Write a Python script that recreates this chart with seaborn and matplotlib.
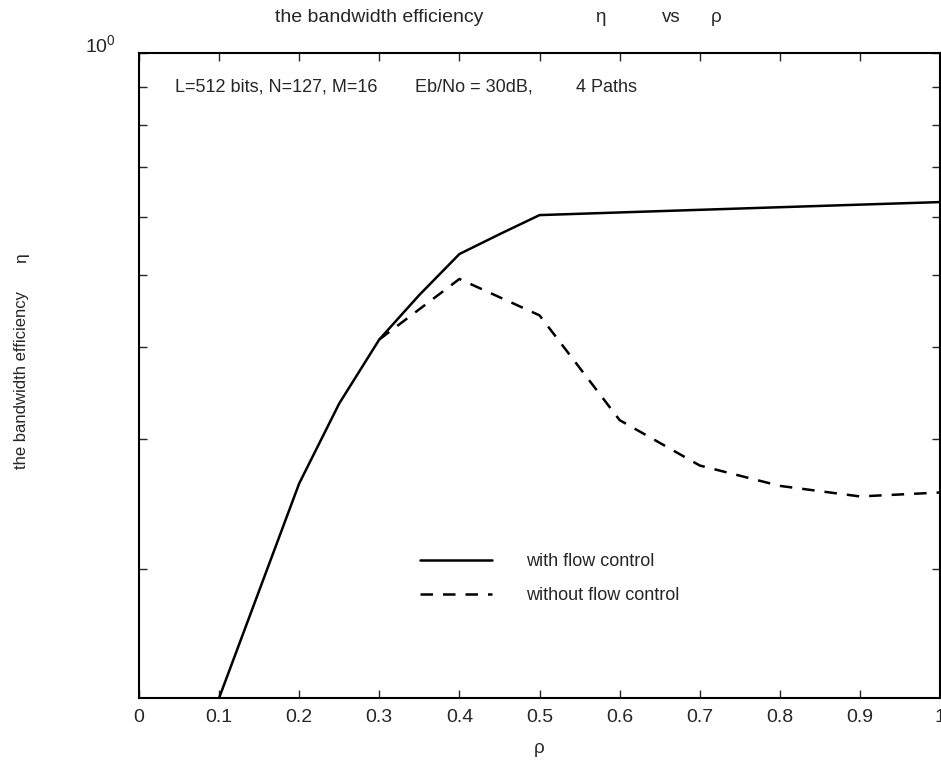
import matplotlib
matplotlib.use("Agg")
import matplotlib.pyplot as plt
import seaborn as sns
import pandas as pd
from matplotlib.ticker import FixedLocator, NullFormatter

# data
rho_with = [0.1, 0.2, 0.25, 0.3, 0.35, 0.4, 0.45, 0.5, 0.6, 0.7, 0.8, 0.9, 1.0]
eta_with = [0.1336, 0.261, 0.335, 0.409, 0.47, 0.534, 0.568, 0.603, 0.608, 0.613, 0.618, 0.623, 0.628]

rho_without = [0.3, 0.4, 0.5, 0.6, 0.7, 0.8, 0.9, 1.0]
eta_without = [0.409, 0.494, 0.441, 0.318, 0.276, 0.259, 0.2506, 0.2537]

x_ticks = [0, 0.1, 0.2, 0.3, 0.4, 0.5, 0.6, 0.7, 0.8, 0.9, 1.0]
x_tick_labels = ["0", "0.1", "0.2", "0.3", "0.4", "0.5", "0.6", "0.7", "0.8", "0.9", "1"]
y_minor = [0.2, 0.3, 0.4, 0.5, 0.6, 0.7, 0.8, 0.9]

sns.set_theme(style="ticks")
plt.rcParams['font.family'] = ['Liberation Sans', 'DejaVu Sans']

fig = plt.figure(figsize=(9.41, 7.65), dpi=100)
ax = fig.add_axes([0.1477, 0.0876, 0.8513, 0.8431])

df_with = pd.DataFrame({"rho": rho_with, "eta": eta_with})
df_without = pd.DataFrame({"rho": rho_without, "eta": eta_without})
sns.lineplot(x="rho", y="eta", data=df_with, color="black", linewidth=1.8, ax=ax,
             label="with flow control")
sns.lineplot(x="rho", y="eta", data=df_without, color="black", linewidth=1.8, ax=ax,
             linestyle=(0, (5, 4)), label="without flow control")

ax.set_yscale("log")
ax.set_xlim(0, 1.0)
ax.set_ylim(0.1336, 1.0)

# MATLAB-ish ticks: inward, on all sides
ax.set_xticks(x_ticks)
ax.set_xticklabels(x_tick_labels, fontsize=14)
ax.yaxis.set_major_locator(FixedLocator([1.0]))
ax.set_yticklabels([""])
ax.yaxis.set_minor_locator(FixedLocator(y_minor))
ax.yaxis.set_minor_formatter(NullFormatter())
ax.tick_params(which="both", direction="in", top=True, right=True, length=6, width=1, pad=8)
for s in ax.spines.values():
    s.set_linewidth(1.5)
    s.set_color("black")

ax.set_xlabel("ρ", fontsize=13.5, labelpad=10)
ax.set_ylabel("")

# y-axis top label, sits up-left of the corner like the original
fig.text(85 / 941, 1 - 52 / 765, r"$\mathdefault{10^0}$", fontsize=14, ha="left", va="baseline")

# title and y label, pieced like the original spacing
fig.text(275 / 941, 1 - 22 / 765, "the bandwidth efficiency", fontsize=14, ha="left", va="baseline")
fig.text(600 / 941, 1 - 22 / 765, "η", fontsize=13.5, ha="center", va="baseline")
fig.text(671 / 941, 1 - 22 / 765, "vs", fontsize=13.5, ha="center", va="baseline")
fig.text(716 / 941, 1 - 22 / 765, "ρ", fontsize=13.5, ha="center", va="baseline")
fig.text(22 / 941, 1 - 380 / 765, "the bandwidth efficiency", fontsize=12, rotation=90,
         ha="center", va="center")
fig.text(22 / 941, 1 - 258 / 765, "η", fontsize=12.5, rotation=90, ha="center", va="center")

ax.text(0.045, 0.94, "L=512 bits, N=127, M=16", transform=ax.transAxes, fontsize=13, va="baseline")
ax.text(0.345, 0.94, "Eb/No = 30dB,", transform=ax.transAxes, fontsize=13, va="baseline")
ax.text(0.546, 0.94, "4 Paths", transform=ax.transAxes, fontsize=13, va="baseline")

leg = ax.legend(loc="upper left", bbox_to_anchor=(0.33, 0.25), frameon=False,
                fontsize=13, handlelength=4.0, handletextpad=1.9, labelspacing=0.95)

fig.savefig("out.png", dpi=100)
